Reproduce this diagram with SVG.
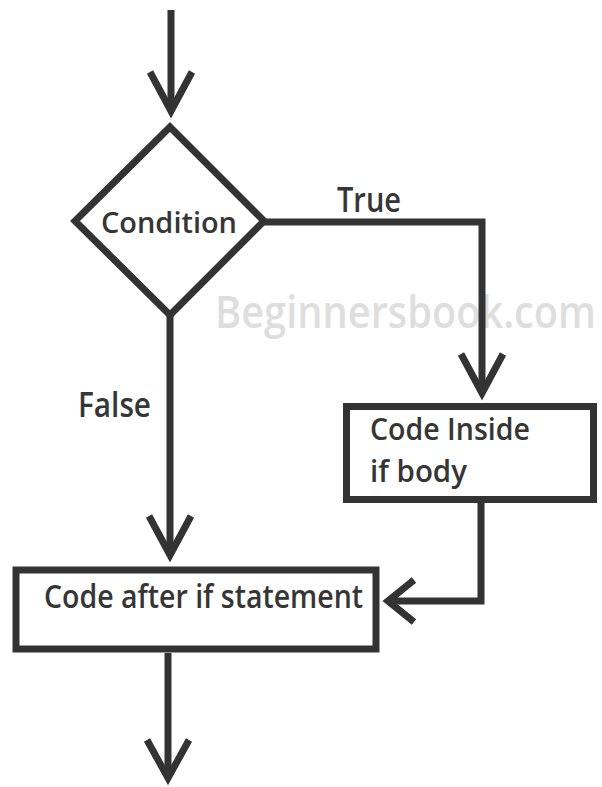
<svg xmlns="http://www.w3.org/2000/svg" width="602" height="787" viewBox="0 0 602 787">
<style>
.ln{fill:none;stroke:#333;stroke-width:7;stroke-linejoin:miter;stroke-miterlimit:10}
.shape{fill:#fff;stroke:#333;stroke-width:7;stroke-linejoin:miter;stroke-miterlimit:10}
.t{font-family:"Open Sans","Noto Sans",sans-serif;font-weight:600;fill:#363636}
.wm{font-family:"Open Sans","Noto Sans",sans-serif;font-weight:600;fill:#dedede}
</style>
<rect width="602" height="787" fill="#fff"/>
<text class="wm" x="215" y="328" font-size="45" textLength="381" lengthAdjust="spacingAndGlyphs">Beginnersbook.com</text>
<g id="connectors">
<path class="ln" d="M171,10 V111"/>
<polyline class="ln" points="150,72 171,111 192,72"/>
<path class="ln" d="M263,222 H482 V393"/>
<polyline class="ln" points="461,354 482,393 503,354"/>
<path class="ln" d="M170,315 V555"/>
<polyline class="ln" points="149,516 170,555 191,516"/>
<path class="ln" d="M481,503 V601 H388"/>
<polyline class="ln" points="414,580 388,601 414,622"/>
<path class="ln" d="M168,653 V778"/>
<polyline class="ln" points="147,740 168,778 189,740"/>
<text class="t" x="337" y="212" font-size="35" textLength="64" lengthAdjust="spacingAndGlyphs">True</text>
<text class="t" x="78" y="417" font-size="34" textLength="73" lengthAdjust="spacingAndGlyphs">False</text>
</g>
<g id="condition">
<polygon class="shape" points="170,127 264,221 170,315 75,221"/>
<text class="t" x="101" y="233" font-size="29" textLength="136" lengthAdjust="spacingAndGlyphs">Condition</text>
</g>
<g id="if-body">
<rect class="shape" x="346.5" y="406.5" width="247" height="93"/>
<text class="t" x="370" y="440" font-size="31" textLength="160" lengthAdjust="spacingAndGlyphs">Code Inside</text>
<text class="t" x="370" y="482" font-size="31" textLength="97" lengthAdjust="spacingAndGlyphs">if body</text>
</g>
<g id="after-if">
<rect class="shape" x="16" y="570" width="360" height="79" stroke-width="8"/>
<text class="t" x="44" y="608" font-size="33" textLength="319" lengthAdjust="spacingAndGlyphs">Code after if statement</text>
</g>
</svg>
